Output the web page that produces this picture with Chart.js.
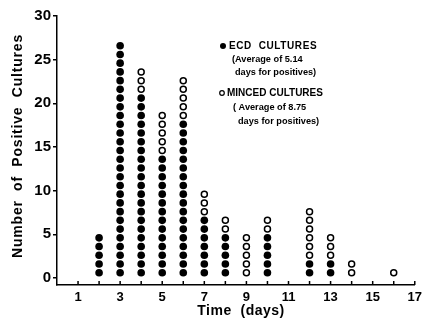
<!DOCTYPE html>
<html>
<head>
<meta charset="utf-8">
<script src="https://cdn.jsdelivr.net/npm/chart.js@4"></script>
<style>
html,body{margin:0;padding:0;background:#fff;}
#wrap{width:427px;height:320px;position:relative;}
</style>
</head>
<body>
<div id="wrap"><canvas id="c" width="427" height="320"></canvas></div>
<script>
const days   = [2, 3, 4, 5, 6, 7, 8, 9, 10, 12, 13, 14, 16];
const ecd    = [5, 27, 21, 14, 18, 7, 5, 0, 5, 2, 2, 0, 0];
const minced = [0, 0, 3, 5, 5, 3, 2, 5, 2, 6, 3, 2, 1];
const xTickLabels = [1, 3, 5, 7, 9, 11, 13, 15, 17];
const yTicks = [0, 5, 10, 15, 20, 25, 30];
const legendLines = [
  ['ECD  CULTURES', '(Average of 5.14', 'days for positives)'],
  ['MINCED CULTURES', '( Average of 8.75', 'days for positives)']
];
const xTitle = 'Time  (days)';
const yTitle = 'Number  of  Positive  Cultures';

const FONT = '"Liberation Sans", Arial, Helvetica, sans-serif';
const DOT_OFFSET = 0.4;

const ecdPts = [], mincedPts = [];
days.forEach((d, i) => {
  for (let k = 1; k <= ecd[i]; k++) ecdPts.push({x: d, y: k - DOT_OFFSET});
  for (let k = 1; k <= minced[i]; k++) mincedPts.push({x: d, y: ecd[i] + k - DOT_OFFSET});
});

const decor = {
  id: 'decor',
  afterDraw(chart) {
    const ctx = chart.ctx;
    const xs = chart.scales.x, ys = chart.scales.y;
    ctx.save();
    ctx.strokeStyle = '#000';
    ctx.lineWidth = 1.5;
    const yb = ys.getPixelForValue(ys.min);
    for (let d = 1; d <= 17; d++) {
      const px = xs.getPixelForValue(d);
      ctx.beginPath();
      ctx.moveTo(px, yb);
      ctx.lineTo(px, yb - 4);
      ctx.stroke();
    }
    ctx.fillStyle = '#000';
    ctx.textAlign = 'center';
    ctx.textBaseline = 'middle';
    ctx.font = 'bold 14px ' + FONT;
    ctx.letterSpacing = '0.5px';
    ctx.fillText(xTitle, 241, 311);
    ctx.save();
    ctx.translate(18, 146);
    ctx.rotate(-Math.PI / 2);
    ctx.letterSpacing = '0.8px';
    ctx.fillText(yTitle, 0, 0);
    ctx.restore();
    ctx.textAlign = 'left';
    const blocks = [
      {bx: 223, by: 46, filled: true, lines: legendLines[0], xs: [229, 232, 235], ys: [46, 59, 72], ls: '0.6px'},
      {bx: 222, by: 93, filled: false, lines: legendLines[1], xs: [227, 233, 238], ys: [93, 107, 121], ls: '0px'}
    ];
    blocks.forEach(b => {
      ctx.beginPath();
      ctx.arc(b.bx, b.by, b.filled ? 3 : 2.3, 0, Math.PI * 2);
      if (b.filled) { ctx.fill(); } else { ctx.lineWidth = 1.2; ctx.stroke(); }
      b.lines.forEach((t, j) => {
        ctx.font = (j === 0 ? 'bold 10px ' : 'bold 9.2px ') + FONT;
        ctx.letterSpacing = j === 0 ? b.ls : '0px';
        ctx.fillText(t, b.xs[j], b.ys[j]);
      });
    });
    ctx.restore();
  }
};

new Chart(document.getElementById('c'), {
  type: 'scatter',
  data: {
    datasets: [
      {label: 'ECD CULTURES', data: ecdPts, pointRadius: 3.8, pointHoverRadius: 3.8,
       backgroundColor: '#000', borderColor: '#000', borderWidth: 0},
      {label: 'MINCED CULTURES', data: mincedPts, pointRadius: 3, pointHoverRadius: 3,
       backgroundColor: '#fff', borderColor: '#000', borderWidth: 1.5}
    ]
  },
  options: {
    responsive: false,
    animation: false,
    events: [],
    layout: {padding: {left: 0, right: 9, top: 16, bottom: 0}},
    plugins: {legend: {display: false}, tooltip: {enabled: false}},
    scales: {
      x: {
        type: 'linear', min: 0, max: 17,
        afterFit(s) { s.height = 35; },
        afterBuildTicks(s) { s.ticks = xTickLabels.map(v => ({value: v})); },
        grid: {display: false, drawTicks: false},
        border: {display: true, color: '#000', width: 1.5},
        ticks: {color: '#000', font: {family: FONT, weight: 'bold', size: 13}, padding: 5, maxRotation: 0, autoSkip: false}
      },
      y: {
        type: 'linear', min: -0.8, max: 30,
        afterFit(s) { s.width = 57; },
        afterBuildTicks(s) { s.ticks = yTicks.map(v => ({value: v})); },
        grid: {display: true, drawOnChartArea: false, drawTicks: true, tickLength: 4, color: '#000', lineWidth: 1.5},
        border: {display: true, color: '#000', width: 1.5},
        ticks: {color: '#000', font: {family: FONT, weight: 'bold', size: 15}, padding: 2}
      }
    }
  },
  plugins: [decor]
});
</script>
</body>
</html>
